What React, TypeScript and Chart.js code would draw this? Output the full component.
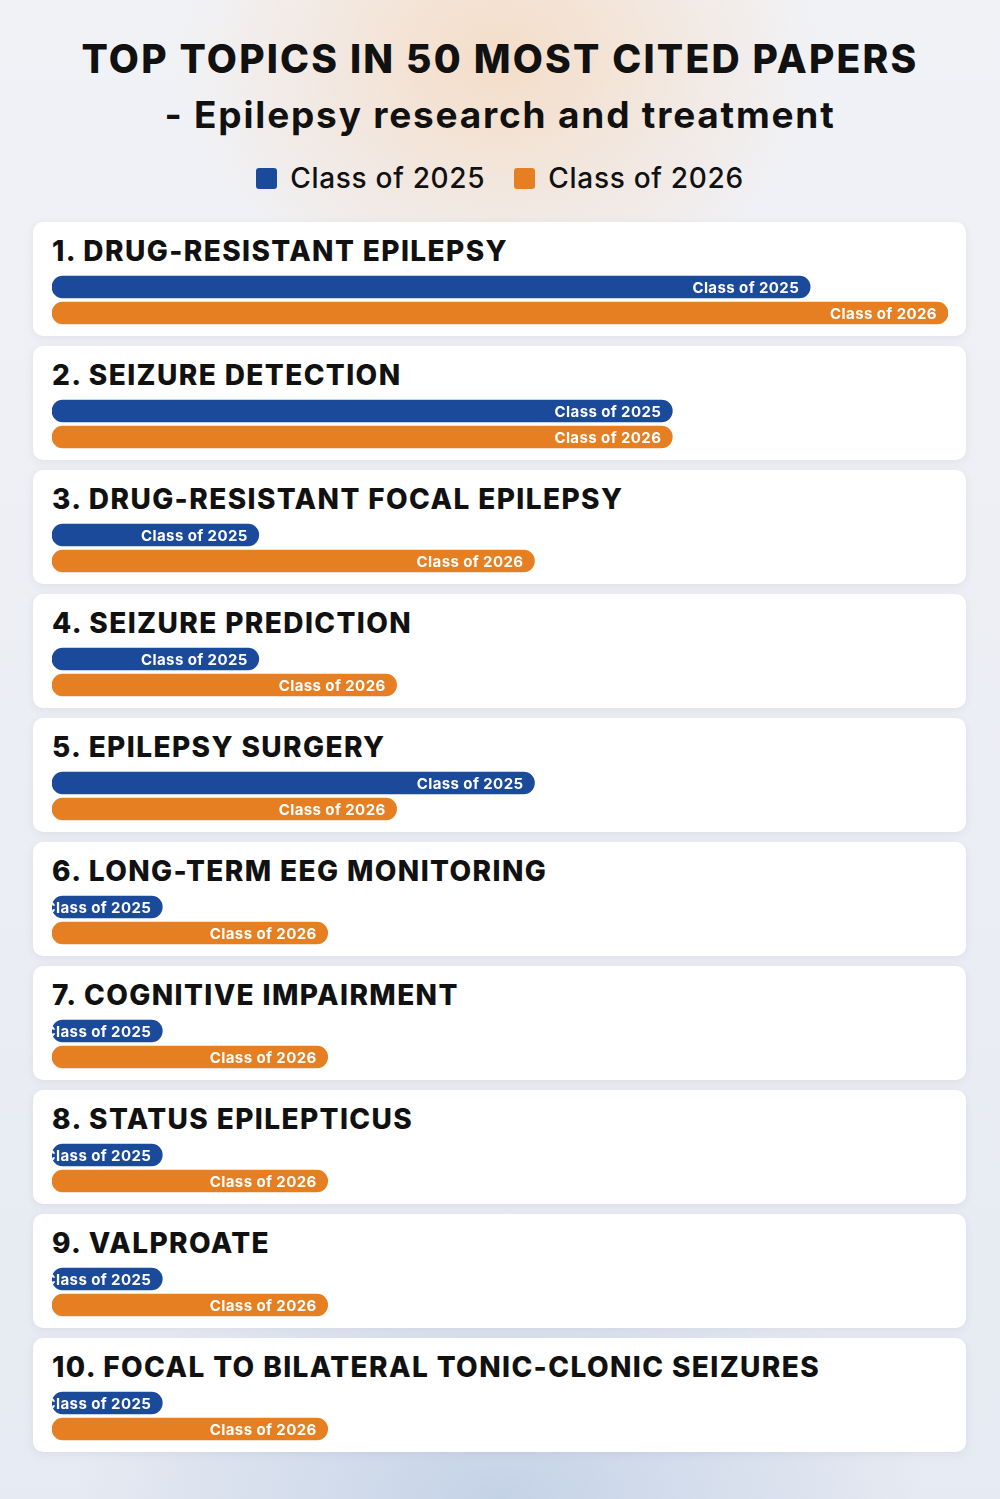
import { useEffect, useRef } from 'react';
import { Chart, registerables } from 'chart.js';

Chart.register(...registerables);

const topics = [
  '1. DRUG-RESISTANT EPILEPSY',
  '2. SEIZURE DETECTION',
  '3. DRUG-RESISTANT FOCAL EPILEPSY',
  '4. SEIZURE PREDICTION',
  '5. EPILEPSY SURGERY',
  '6. LONG-TERM EEG MONITORING',
  '7. COGNITIVE IMPAIRMENT',
  '8. STATUS EPILEPTICUS',
  '9. VALPROATE',
  '10. FOCAL TO BILATERAL TONIC-CLONIC SEIZURES',
];
const seriesLabels = ['Class of 2025', 'Class of 2026'];
const class2025 = [11, 9, 3, 3, 7, 1.6, 1.6, 1.6, 1.6, 1.6];
const class2026 = [13, 9, 7, 5, 5, 4, 4, 4, 4, 4];
const xMax = 13;

const BLUE = '#1b4a9b';
const ORANGE = '#e67f22';
const FONT = "Inter, 'DejaVu Sans', sans-serif";

const barLabels = {
  id: 'barLabels',
  afterDatasetsDraw(chart: Chart) {
    const { ctx, chartArea } = chart;
    const meta = chart.getDatasetMeta(0);
    ctx.save();
    ctx.beginPath();
    ctx.rect(chartArea.left, chartArea.top, chartArea.right - chartArea.left, chartArea.bottom - chartArea.top);
    ctx.clip();
    ctx.fillStyle = '#ffffff';
    ctx.font = `700 15px ${FONT}`;
    (ctx as any).letterSpacing = '0.4px';
    ctx.textAlign = 'right';
    ctx.textBaseline = 'middle';
    meta.data.forEach((el: any, i: number) => {
      ctx.fillText(String(chart.data.labels?.[i] ?? ''), el.x - 11, el.y + 1);
    });
    ctx.restore();
  },
};

function TopicBars({ index }: { index: number }) {
  const canvasRef = useRef<HTMLCanvasElement>(null);
  const chartRef = useRef<Chart | null>(null);

  useEffect(() => {
    if (!canvasRef.current) return;
    chartRef.current?.destroy();
    chartRef.current = new Chart(canvasRef.current, {
      type: 'bar',
      data: {
        labels: seriesLabels,
        datasets: [
          {
            data: [class2025[index], class2026[index]],
            backgroundColor: [BLUE, ORANGE],
            borderRadius: 11,
            borderSkipped: false,
            barThickness: 22,
          },
        ],
      },
      options: {
        indexAxis: 'y',
        responsive: true,
        maintainAspectRatio: false,
        animation: false,
        layout: { padding: 0 },
        plugins: { legend: { display: false }, tooltip: { enabled: false } },
        scales: {
          x: { min: 0, max: xMax, display: false },
          y: { display: false },
        },
      },
      plugins: [barLabels],
    });
    return () => { chartRef.current?.destroy(); };
  }, [index]);

  return (
    <div style={{ position: 'absolute', left: 19, top: 52, width: 896, height: 52 }}>
      <canvas ref={canvasRef} />
    </div>
  );
}

export default function App() {
  return (
    <div
      style={{
        position: 'absolute',
        left: 0,
        top: 0,
        width: 1000,
        height: 1499,
        overflow: 'hidden',
        fontFamily: FONT,
        color: '#111111',
        background:
          'radial-gradient(ellipse 320px 260px at 500px 60px, rgba(246,214,184,0.75), rgba(246,214,184,0) 100%),' +
          'radial-gradient(ellipse 420px 260px at 500px 1499px, rgba(188,204,228,0.8), rgba(188,204,228,0) 100%),' +
          'linear-gradient(#f1f2f6, #e6eaf2)',
      }}
    >
      <div style={{ position: 'absolute', top: 35, left: 0, width: 1000, textAlign: 'center', fontSize: 39, fontWeight: 800, lineHeight: '48px', letterSpacing: 2.2 }}>
        TOP TOPICS IN 50 MOST CITED PAPERS
      </div>
      <div style={{ position: 'absolute', top: 91, left: 0, width: 1000, textAlign: 'center', fontSize: 37, fontWeight: 700, lineHeight: '48px', letterSpacing: 1.8 }}>
        - Epilepsy research and treatment
      </div>
      <div style={{ position: 'absolute', top: 160, left: 0, width: 1000, display: 'flex', justifyContent: 'center', alignItems: 'center', fontSize: 28, fontWeight: 500, lineHeight: '36px', letterSpacing: 0.7 }}>
        <span style={{ width: 21, height: 21, borderRadius: 3, background: BLUE, marginRight: 13 }} />
        <span style={{ marginRight: 29 }}>{seriesLabels[0]}</span>
        <span style={{ width: 21, height: 21, borderRadius: 3, background: ORANGE, marginRight: 13 }} />
        <span>{seriesLabels[1]}</span>
      </div>
      {topics.map((t, i) => (
        <div
          key={t}
          style={{
            position: 'absolute',
            left: 33,
            top: 222 + i * 124,
            width: 933,
            height: 114,
            borderRadius: 10,
            background: '#ffffff',
            boxShadow: '0 2px 8px rgba(60,70,100,0.08)',
          }}
        >
          <div style={{ position: 'absolute', left: 19, top: 12, fontSize: 28, fontWeight: 800, lineHeight: '34px', letterSpacing: 1.4, whiteSpace: 'nowrap' }}>
            {t}
          </div>
          <TopicBars index={i} />
        </div>
      ))}
    </div>
  );
}
